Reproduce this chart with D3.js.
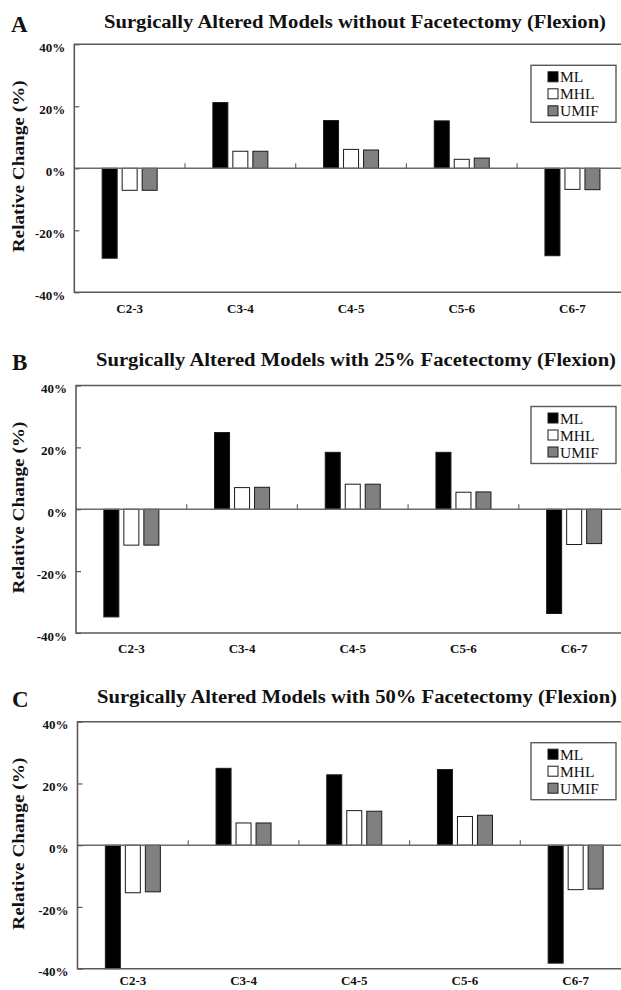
<!DOCTYPE html>
<html>
<head>
<meta charset="utf-8">
<script src="https://cdn.jsdelivr.net/npm/d3@7"></script>
<style>
  html, body { margin: 0; padding: 0; background: #fff; overflow: hidden; }
  svg { display: block; }
  text { font-family: "Liberation Serif", "Times New Roman", serif; fill: #111; }
</style>
</head>
<body>
<svg id="chart" width="621" height="990"></svg>
<script>
// Vertebral levels and model series
const categories = ["C2-3", "C3-4", "C4-5", "C5-6", "C6-7"];
const seriesNames = ["ML", "MHL", "UMIF"];
const yTickValues = [-40, -20, 0, 20, 40];

const panelLetters = ["A", "B", "C"];
const panelTitles = [
  "Surgically Altered Models without Facetectomy (Flexion)",
  "Surgically Altered Models with 25%  Facetectomy (Flexion)",
  "Surgically Altered Models with 50%  Facetectomy (Flexion)"
];

// Relative change (%) per level, panel A: no facetectomy
const mlA   = [-29.0, 21.2, 15.4, 15.3, -28.2];
const mhlA  = [-7.1, 5.5, 6.1, 2.9, -6.8];
const umifA = [-7.1, 5.5, 5.9, 3.3, -6.9];

// Panel B: 25% facetectomy
const mlB   = [-34.8, 24.8, 18.4, 18.4, -33.7];
const mhlB  = [-11.6, 7.0, 8.1, 5.5, -11.4];
const umifB = [-11.6, 7.1, 8.1, 5.6, -11.1];

// Panel C: 50% facetectomy
const mlC   = [-40.0, 24.9, 22.8, 24.5, -38.2];
const mhlC  = [-15.4, 7.2, 11.2, 9.3, -14.4];
const umifC = [-15.1, 7.2, 11.0, 9.7, -14.2];

const panelValues = [
  [mlA, mhlA, umifA],
  [mlB, mhlB, umifB],
  [mlC, mhlC, umifC]
];

// Layout of the three stacked panels
const layout = [
  { left: 74.3, top: 44.3,  height: 248,   titleX: 104, titleW: 502, titleDy: -16,  letterX: 11, letterDy: -12,   labelPad: 11.5 },
  { left: 76,   top: 385.5, height: 247.5, titleX: 96,  titleW: 520, titleDy: -19.5, letterX: 12, letterDy: -15.5, labelPad: 11 },
  { left: 77.5, top: 721.7, height: 247,   titleX: 97,  titleW: 520, titleDy: -19,  letterX: 12, letterDy: -15,   labelPad: 7.5 }
];
const bandStep = 110.7;
const fills = { ML: "#000000", MHL: "#ffffff", UMIF: "#808080" };
const frameColor = "#5a5a5a";

const svg = d3.select("#chart");

panelLetters.forEach((letter, pi) => {
  const L = layout[pi];
  const g = svg.append("g");
  const bottom = L.top + L.height;

  const x0 = d3.scaleBand().domain(categories)
    .range([L.left, L.left + bandStep * categories.length]).padding(0);
  const x1 = d3.scaleBand().domain(seriesNames).range([0, 55]).paddingInner(0.25);
  const groupOffset = (x0.bandwidth() - 55) / 2;
  const y = d3.scaleLinear().domain([-40, 40]).range([bottom, L.top]);

  // panel letter and title
  g.append("text")
    .attr("x", L.letterX).attr("y", L.top + L.letterDy)
    .attr("font-size", 23).attr("font-weight", "bold")
    .text(letter);
  g.append("text")
    .attr("x", L.titleX).attr("y", L.top + L.titleDy)
    .attr("font-size", 18.5).attr("font-weight", "bold")
    .attr("textLength", L.titleW).attr("lengthAdjust", "spacingAndGlyphs")
    .text(panelTitles[pi]);

  // y-axis title
  g.append("text")
    .attr("transform", `translate(24,${L.top + 122}) rotate(-90)`)
    .attr("text-anchor", "middle")
    .attr("font-size", 17).attr("font-weight", "bold")
    .attr("textLength", 172).attr("lengthAdjust", "spacingAndGlyphs")
    .text("Relative Change (%)");

  // bars
  const rows = [];
  categories.forEach((c, ci) => {
    seriesNames.forEach((s, si) => rows.push({ c, s, v: panelValues[pi][si][ci] }));
  });
  g.append("g").selectAll("rect").data(rows).join("rect")
    .attr("x", d => x0(d.c) + groupOffset + x1(d.s))
    .attr("width", x1.bandwidth())
    .attr("y", d => y(Math.max(0, d.v)))
    .attr("height", d => Math.abs(y(d.v) - y(0)))
    .attr("fill", d => fills[d.s])
    .attr("stroke", "#1a1a1a").attr("stroke-width", 1);

  // zero line with small category separators
  g.append("line")
    .attr("x1", L.left).attr("x2", 621)
    .attr("y1", y(0)).attr("y2", y(0))
    .attr("stroke", "#6a6a6a").attr("stroke-width", 1.5);
  g.append("g").selectAll("line").data(categories.slice(1)).join("line")
    .attr("x1", d => x0(d)).attr("x2", d => x0(d))
    .attr("y1", y(0)).attr("y2", y(0) - 5)
    .attr("stroke", "#6a6a6a").attr("stroke-width", 1.2);

  // frame (left, top, bottom)
  g.append("path")
    .attr("d", `M621,${L.top}H${L.left}V${bottom}H621`)
    .attr("fill", "none").attr("stroke", frameColor).attr("stroke-width", 1.6);

  // y axis ticks and labels
  const yAxis = d3.axisLeft(y).tickValues(yTickValues)
    .tickFormat(d => d + "%").tickSizeInner(-5).tickSizeOuter(0).tickPadding(9);
  const ya = g.append("g").attr("transform", `translate(${L.left},0)`).call(yAxis);
  ya.select(".domain").remove();
  ya.selectAll("line").attr("stroke", frameColor).attr("stroke-width", 1.2);
  ya.selectAll("text").attr("font-size", 13).attr("font-weight", "bold")
    .attr("font-family", "Liberation Serif, Times New Roman, serif").attr("fill", "#111")
    .attr("dy", "0.55em");

  // category labels
  const xAxis = d3.axisBottom(x0).tickSize(0).tickPadding(L.labelPad);
  const xa = g.append("g").attr("transform", `translate(0,${bottom})`).call(xAxis);
  xa.select(".domain").remove();
  xa.selectAll("text").attr("font-size", 13).attr("font-weight", "bold")
    .attr("font-family", "Liberation Serif, Times New Roman, serif").attr("fill", "#111");

  // legend
  const lg = g.append("g").attr("transform", `translate(531,${L.top + 21})`);
  lg.append("rect").attr("width", 85).attr("height", 57)
    .attr("fill", "#fff").attr("stroke", frameColor).attr("stroke-width", 1.4);
  seriesNames.forEach((s, i) => {
    const cy = 11.5 + i * 17;
    lg.append("rect").attr("x", 17).attr("y", cy - 5).attr("width", 10).attr("height", 10)
      .attr("fill", fills[s]).attr("stroke", "#1a1a1a").attr("stroke-width", 1);
    lg.append("text").attr("x", 29).attr("y", cy).attr("dy", "0.36em")
      .attr("font-size", 15.5).text(s);
  });
});
</script>
</body>
</html>
